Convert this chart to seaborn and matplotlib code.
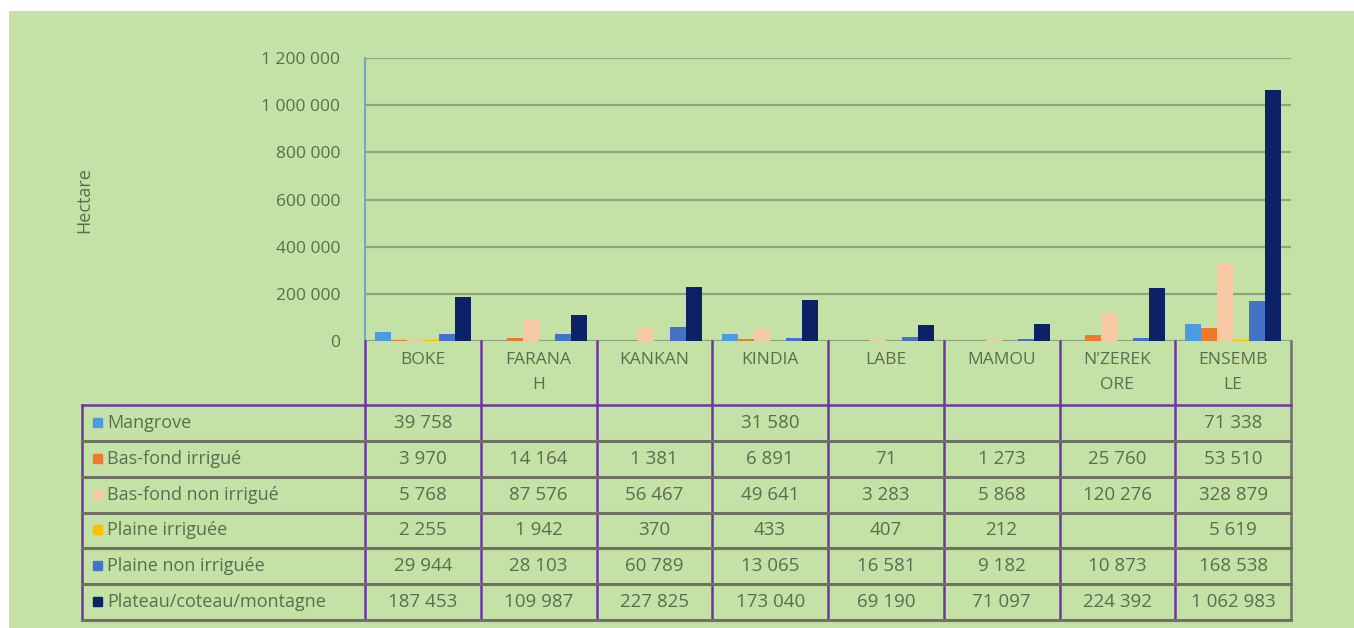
import numpy as np
import pandas as pd
import matplotlib
matplotlib.use("Agg")
import matplotlib.pyplot as plt
import seaborn as sns

# ---- data ----
regions = ["BOKE", "FARANAH", "KANKAN", "KINDIA", "LABE", "MAMOU", "N'ZEREKORE", "ENSEMBLE"]
region_labels = ["BOKE", "FARANA\nH", "KANKAN", "KINDIA", "LABE", "MAMOU", "N'ZEREK\nORE", "ENSEMB\nLE"]
series = ["Mangrove", "Bas-fond irrigué", "Bas-fond non irrigué", "Plaine irriguée",
          "Plaine non irriguée", "Plateau/coteau/montagne"]
mangrove = [39758, np.nan, np.nan, 31580, np.nan, np.nan, np.nan, 71338]
basfond_irrigue = [3970, 14164, 1381, 6891, 71, 1273, 25760, 53510]
basfond_non_irrigue = [5768, 87576, 56467, 49641, 3283, 5868, 120276, 328879]
plaine_irriguee = [2255, 1942, 370, 433, 407, 212, np.nan, 5619]
plaine_non_irriguee = [29944, 28103, 60789, 13065, 16581, 9182, 10873, 168538]
plateau = [187453, 109987, 227825, 173040, 69190, 71097, 224392, 1062983]
yticks = [0, 200000, 400000, 600000, 800000, 1000000, 1200000]
colors = ["#4a9be0", "#ee7a30", "#f9c9a4", "#ffc000", "#4472c8", "#0b2366"]

values = [mangrove, basfond_irrigue, basfond_non_irrigue, plaine_irriguee, plaine_non_irriguee, plateau]
rows = []
for s, vals in zip(series, values):
    for r, v in zip(regions, vals):
        rows.append({"region": r, "type": s, "value": v})
df = pd.DataFrame(rows)

# ---- style ----
BG = "#c5e2a6"
TXT = "#5c6c4e"
PURPLE = "#6f35a5"
GRAY = "#707066"

W, H = 1354, 628
fig = plt.figure(figsize=(W / 100, H / 100), dpi=100, facecolor="white")
plt.rcParams["font.family"] = ["Open Sans", "DejaVu Sans"]

# green panel with white margin at top and left
bgax = fig.add_axes([0, 0, 1, 1], zorder=-10)
bgax.set_xlim(0, W)
bgax.set_ylim(H, 0)
bgax.axis("off")
bgax.add_patch(plt.Rectangle((9, 11), W + 20, H + 20, color=BG, lw=0, clip_on=False))

x0, x1 = 365, 1291
y_top, y_zero = 58, 341
ax = fig.add_axes([x0 / W, 1 - y_zero / H, (x1 - x0) / W, (y_zero - y_top) / H])
ax.set_facecolor("none")

sns.barplot(data=df.dropna(), x="region", y="value", hue="type", order=regions,
            hue_order=series, palette=colors, width=0.83, ax=ax, legend=False,
            linewidth=0, saturation=1)

ax.set_xlim(-0.5, len(regions) - 0.5)
ax.set_ylim(0, 1200000)
ax.set_yticks(yticks)
ax.set_yticklabels([f"{v:,}".replace(",", " ") for v in yticks], color=TXT, fontsize=12.5)
ax.tick_params(axis="y", length=0, pad=18)
ax.set_xticks([])
ax.set_xlabel("")
ax.set_ylabel("")
for t in yticks:
    ax.axhline(t, color="#8ea47c", lw=1.6, zorder=0)
for sp in ["top", "right", "bottom"]:
    ax.spines[sp].set_visible(False)
ax.spines["left"].set_color("#6fa8c8")
ax.spines["left"].set_linewidth(1.5)

fig.text(84 / W, 1 - 200 / H, "Hectare", rotation=90, color=TXT, fontsize=13,
         ha="center", va="center")

# ---- data table ----
tax = fig.add_axes([0, 0, 1, 1])
tax.set_xlim(0, W)
tax.set_ylim(H, 0)
tax.axis("off")
tax.set_facecolor("none")

n = len(regions)
colw = (x1 - x0) / n
left = 82
head_top, head_bot = y_zero, 405
row_h = (620 - head_bot) / len(series)
bottom = head_bot + row_h * len(series)

# vertical lines
for i in range(n + 1):
    xx = x0 + i * colw
    tax.plot([xx, xx], [head_top, bottom], color=PURPLE if i < n else GRAY, lw=1.8)
tax.plot([left, left], [head_bot, bottom], color=PURPLE, lw=1.8)
# horizontal lines
tax.plot([left, x1], [head_bot, head_bot], color=PURPLE, lw=1.8)
for j in range(1, len(series) + 1):
    yy = head_bot + j * row_h
    tax.plot([left, x1], [yy, yy], color=GRAY, lw=2.2)

# header labels
for i, lab in enumerate(region_labels):
    cx = x0 + (i + 0.5) * colw
    tax.text(cx, 352, lab, ha="center", va="top", color=TXT, fontsize=12.5,
             linespacing=1.75)

# rows
for j, (s, vals, c) in enumerate(zip(series, values, colors)):
    cy = head_bot + (j + 0.5) * row_h
    tax.add_patch(plt.Rectangle((93, cy - 5), 9, 9, color=c))
    tax.text(107, cy, s, ha="left", va="center", color=TXT, fontsize=13)
    for i, v in enumerate(vals):
        if np.isnan(v):
            continue
        cx = x0 + (i + 0.5) * colw
        tax.text(cx, cy, f"{int(v):,}".replace(",", " "), ha="center", va="center",
                 color=TXT, fontsize=13.5)

fig.savefig("out.png", dpi=100, facecolor="white")
